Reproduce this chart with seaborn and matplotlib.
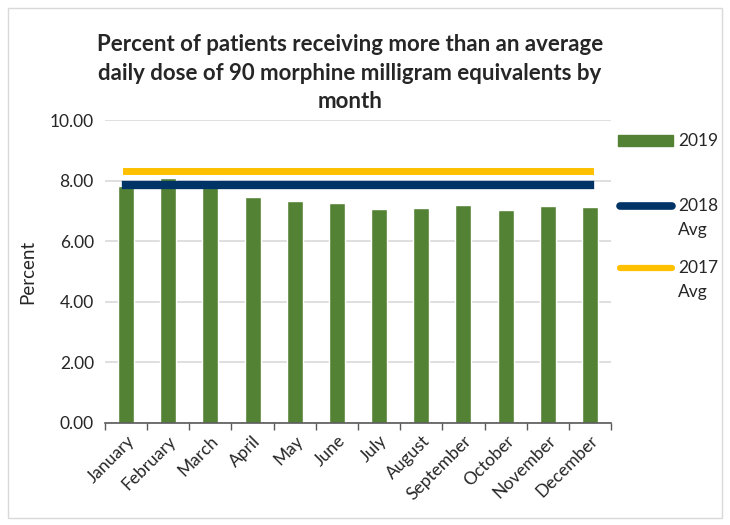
import matplotlib.pyplot as plt
import pandas as pd
import seaborn as sb
from matplotlib.lines import Line2D
from matplotlib.patches import Rectangle
from matplotlib.ticker import FixedLocator

months = ['January', 'February', 'March', 'April', 'May', 'June', 'July',
          'August', 'September', 'October', 'November', 'December']
pct_2019 = [7.82, 8.09, 8.00, 7.47, 7.32, 7.27, 7.07, 7.08, 7.21, 7.03, 7.17, 7.12]
avg_2018 = [7.87, 7.87, 7.87, 7.87, 7.87, 7.87, 7.87, 7.87, 7.87, 7.87, 7.87, 7.87]
avg_2017 = [8.31, 8.31, 8.31, 8.31, 8.31, 8.31, 8.31, 8.31, 8.31, 8.31, 8.31, 8.31]

green = '#548235'
navy = '#003366'
gold = '#FFC000'

sb.set_style("white")
plt.rcParams['font.family'] = ['Lato', 'DejaVu Sans']

df = pd.DataFrame({'month': months, '2019': pct_2019,
                   '2018 Avg': avg_2018, '2017 Avg': avg_2017})

fig = plt.figure(figsize=(7.3, 5.25), dpi=100)
ax = fig.add_axes([0.1438, 0.1943, 0.6932, 0.5771])

sb.barplot(data=df, x='month', y='2019', color=green, saturation=1,
           width=0.38, ax=ax)
sb.lineplot(data=df, x='month', y='2018 Avg', color=navy, linewidth=6,
            solid_capstyle='projecting', ax=ax)
sb.lineplot(data=df, x='month', y='2017 Avg', color=gold, linewidth=5,
            solid_capstyle='projecting', ax=ax)

ax.set_xlim(-0.5, 11.5)
ax.set_ylim(0, 10)
ax.set_yticks([0, 2, 4, 6, 8, 10])
ax.set_yticklabels(['{0:.2f}'.format(v) for v in [0, 2, 4, 6, 8, 10]], fontsize=12.5)
ax.yaxis.grid(True, color='#d9d9d9', linewidth=1.2)
ax.set_axisbelow(True)
ax.tick_params(axis='y', length=0, pad=8)

ax.set_xticks(range(len(months)))
ax.set_xticklabels(months, rotation=45, ha='right', rotation_mode='anchor', fontsize=12.5)
ax.tick_params(axis='x', which='major', length=0, pad=7)
ax.xaxis.set_minor_locator(FixedLocator([i - 0.5 for i in range(len(months) + 1)]))
ax.tick_params(axis='x', which='minor', length=5, width=1, color='#595959', bottom=True)

for side in ['top', 'right', 'left']:
    ax.spines[side].set_visible(False)
ax.spines['bottom'].set_color('#595959')
ax.spines['bottom'].set_linewidth(1.2)

ax.set_xlabel('')
ax.set_ylabel('Percent', fontsize=13.5, labelpad=10)

# title, three lines centred over the plot
fig.text(0.479, 0.935,
         'Percent of patients receiving more than an average\n'
         'daily dose of 90 morphine milligram equivalents by\nmonth',
         ha='center', va='top', fontsize=16, fontweight='bold', linespacing=1.45)

# legend on the right
fig.add_artist(Rectangle((618 / 730, 1 - 146 / 525), 55 / 730, 11 / 525,
                         transform=fig.transFigure, color=green))
fig.add_artist(Line2D([620 / 730, 672 / 730], [1 - 206 / 525] * 2,
                      transform=fig.transFigure, color=navy, linewidth=5.5,
                      solid_capstyle='round'))
fig.add_artist(Line2D([620 / 730, 672 / 730], [1 - 268 / 525] * 2,
                      transform=fig.transFigure, color=gold, linewidth=4.5,
                      solid_capstyle='round'))
fig.text(678 / 730, 1 - 141 / 525, '2019', va='center', fontsize=12.5)
fig.text(678 / 730, 1 - 206 / 525, '2018', va='center', fontsize=12.5)
fig.text(678 / 730, 1 - 230 / 525, 'Avg', va='center', fontsize=12.5)
fig.text(678 / 730, 1 - 268 / 525, '2017', va='center', fontsize=12.5)
fig.text(678 / 730, 1 - 292 / 525, 'Avg', va='center', fontsize=12.5)

# chart border
fig.add_artist(Rectangle((8 / 730, 7 / 525), 714 / 730, 510 / 525,
                         transform=fig.transFigure, fill=False,
                         edgecolor='#d9d9d9', linewidth=1))

plt.savefig("out.png", dpi=100, format="png")
